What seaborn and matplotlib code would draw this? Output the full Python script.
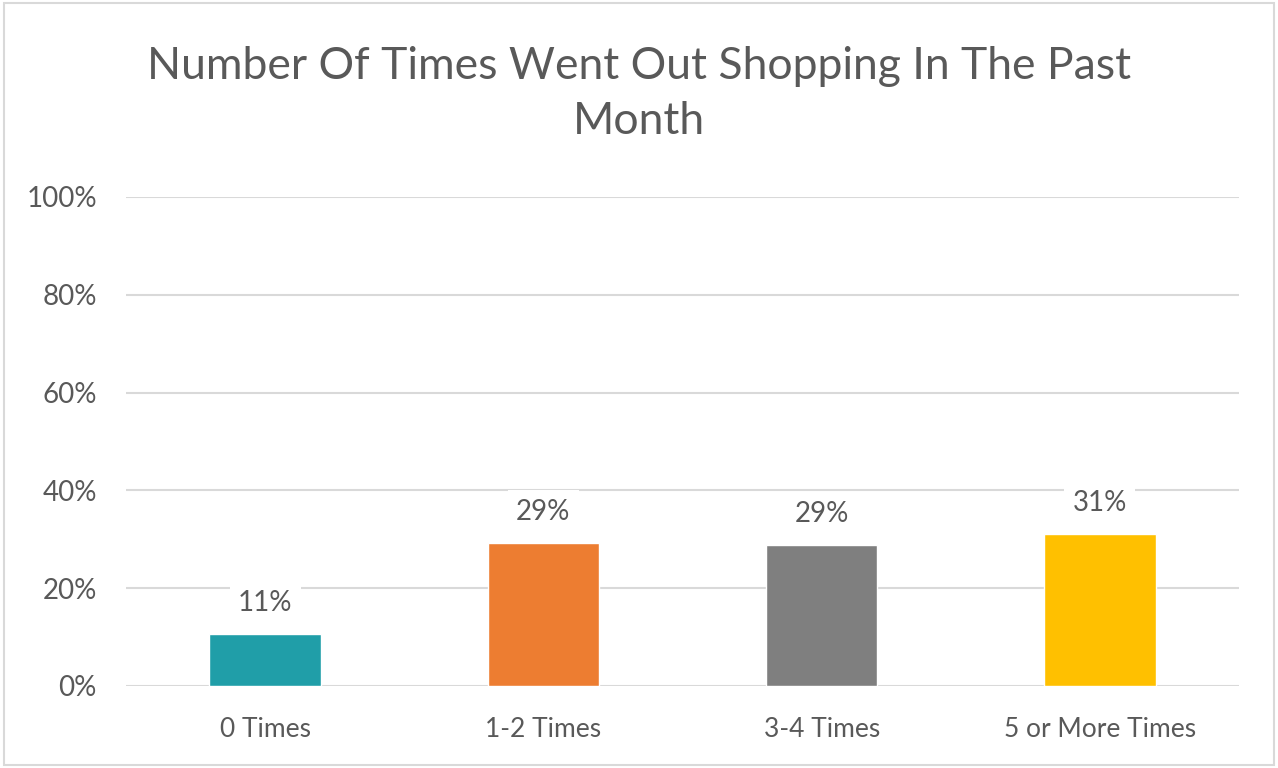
import matplotlib
matplotlib.use("Agg")
import matplotlib.pyplot as plt
import seaborn as sns
import pandas as pd
from matplotlib.patches import Rectangle

categories = ["0 Times", "1-2 Times", "3-4 Times", "5 or More Times"]
values = [0.106, 0.293, 0.289, 0.310]
labels = ["11%", "29%", "29%", "31%"]
colors = ["#209EA8", "#ED7D31", "#7F7F7F", "#FFC000"]
yticks = [0, 0.2, 0.4, 0.6, 0.8, 1.0]
ytick_labels = ["0%", "20%", "40%", "60%", "80%", "100%"]

sns.set_theme(style="white")
plt.rcParams['font.family'] = ['Lato', 'DejaVu Sans']
text_color = "#595959"

fig = plt.figure(figsize=(12.78, 7.68), dpi=100)
ax = fig.add_axes([0.0986, 0.1068, 0.8709, 0.6367])

df = pd.DataFrame({"cat": categories, "val": values})
sns.barplot(data=df, x="cat", y="val", hue="cat", palette=colors, legend=False,
            width=0.4, ax=ax, saturation=1, zorder=3)

ax.set_ylim(0, 1)
ax.set_xlim(-0.5, 3.5)
ax.set_yticks(yticks)
ax.set_yticklabels(ytick_labels, fontsize=20, color=text_color)
ax.tick_params(axis="x", labelsize=19, labelcolor=text_color, pad=22, length=0)
ax.tick_params(axis="y", pad=21, length=0)
ax.set_xlabel("")
ax.set_ylabel("")
ax.grid(axis="y", color="#D9D9D9", linewidth=1.5, zorder=0)
ax.set_axisbelow(True)
for s in ax.spines.values():
    s.set_visible(False)

for cont in ax.containers:
    for bar in cont:
        idx = int(round(bar.get_x() + bar.get_width() / 2))
        ax.annotate(labels[idx], (bar.get_x() + bar.get_width() / 2, bar.get_height()),
                    xytext=(0, 13), textcoords="offset points", ha="center", va="bottom",
                    fontsize=20, color=text_color,
                    bbox=dict(boxstyle="square,pad=0.3", fc="white", ec="none"), zorder=4)

fig.text(0.5, 0.878, "Number Of Times Went Out Shopping In The Past\nMonth", ha="center", va="center",
         fontsize=32, color=text_color, linespacing=1.42)

fig.patches.append(Rectangle((0.003, 0.004), 0.994, 0.992, transform=fig.transFigure,
                             fill=False, ec="#D9D9D9", lw=1.5))

fig.savefig("out.png", dpi=100, facecolor="white")
